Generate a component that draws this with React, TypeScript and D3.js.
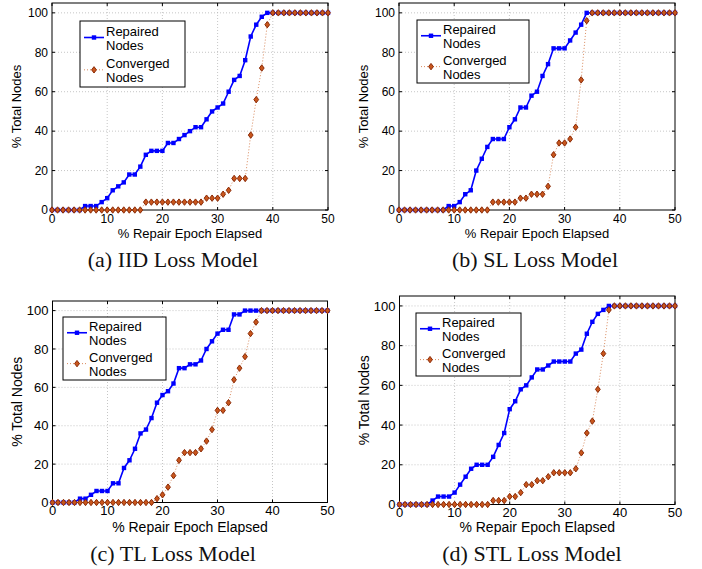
import React from "react";
import * as d3 from "d3";

// x = % repair epoch elapsed, 0..50 in steps of 1
const epochs = d3.range(0, 51);
const xTicks = [0, 10, 20, 30, 40, 50];
const yTicks = [0, 20, 40, 60, 80, 100];

const pad100 = (arr: number[]) => arr.concat(new Array(51 - arr.length).fill(100));

// (a) IID
const iidRepaired = pad100([
  0, 0, 0, 0, 0, 0, 2, 2, 2, 4, 6, 10, 12, 14, 18, 18, 22, 28, 30, 30, 30, 34, 34, 36, 38, 40,
  42, 42, 46, 50, 52, 54, 60, 66, 68, 76, 88, 94, 98, 100,
]);
const iidConverged = pad100([
  0, 0, 0, 0, 0, 0, 0, 0, 0, 0, 0, 0, 0, 0, 0, 0, 0, 4, 4, 4, 4, 4, 4, 4, 4, 4, 4, 4, 6, 6, 6,
  8, 10, 16, 16, 16, 38, 56, 72, 94, 100,
]);

// (b) SL
const slRepaired = pad100([
  0, 0, 0, 0, 0, 0, 0, 0, 0, 2, 2, 4, 8, 10, 20, 26, 32, 36, 36, 36, 42, 46, 52, 52, 58, 60, 68,
  74, 82, 82, 82, 86, 90, 94, 100,
]);
const slConverged = pad100([
  0, 0, 0, 0, 0, 0, 0, 0, 0, 0, 0, 0, 0, 0, 0, 0, 0, 4, 4, 4, 4, 4, 6, 6, 8, 8, 8, 12, 28, 34,
  34, 36, 42, 66, 96, 100,
]);

// (c) TL
const tlRepaired = pad100([
  0, 0, 0, 0, 0, 2, 2, 4, 6, 6, 6, 10, 10, 18, 22, 28, 36, 38, 44, 52, 56, 58, 62, 70, 70, 72,
  72, 74, 80, 84, 88, 90, 90, 98, 98, 100,
]);
const tlConverged = pad100([
  0, 0, 0, 0, 0, 0, 0, 0, 0, 0, 0, 0, 0, 0, 0, 0, 0, 0, 0, 2, 4, 8, 14, 22, 26, 26, 26, 28, 32,
  38, 48, 48, 52, 64, 70, 76, 88, 94, 100,
]);

// (d) STL
const stlRepaired = pad100([
  0, 0, 0, 0, 0, 0, 2, 4, 4, 4, 6, 10, 14, 18, 20, 20, 20, 24, 30, 36, 48, 52, 58, 60, 64, 68,
  68, 70, 72, 72, 72, 72, 76, 78, 86, 92, 96, 98, 100,
]);
const stlConverged = pad100([
  0, 0, 0, 0, 0, 0, 0, 0, 0, 0, 0, 0, 0, 0, 0, 0, 0, 2, 2, 2, 4, 4, 6, 10, 10, 12, 12, 14, 16,
  16, 16, 16, 18, 26, 36, 42, 58, 76, 98, 100,
]);

const BLUE = "#0000ff";
const BROWN_LINE = "#d98a5e";
const BROWN_FILL = "#c8561c";
const BROWN_EDGE = "#8b2a06";
const SANS = "Liberation Sans, Arial, Helvetica, sans-serif";
const SERIF = "Liberation Serif, Times New Roman, serif";

type Box = { left: number; right: number; top: number; bottom: number };

function diamond(cx: number, cy: number) {
  return `M${cx},${cy - 3.2}L${cx + 2.4},${cy}L${cx},${cy + 3.2}L${cx - 2.4},${cy}Z`;
}

function Panel(props: {
  box: Box;
  repaired: number[];
  converged: number[];
  legend: Box;
  caption: string;
  captionX: number;
  tickFont: number;
  labelFont: number;
  captionY: number;
  xLabelY: number;
}) {
  const { box, repaired, converged, legend, caption, captionX, tickFont, labelFont, captionY, xLabelY } = props;
  const x = d3.scaleLinear().domain([0, 50]).range([box.left, box.right]);
  const y = d3.scaleLinear().domain([0, 105]).range([box.bottom, box.top]);
  const line = d3
    .line<number>()
    .x((_, i) => x(epochs[i]))
    .y((d) => y(d));
  const cx = (box.left + box.right) / 2;
  const cy = (box.top + box.bottom) / 2;

  const lh = legend.bottom - legend.top;
  const r1 = legend.top + lh * 0.25;
  const r2 = legend.top + lh * 0.74;
  return (
    <g>
      {/* grid */}
      {xTicks.slice(1, -1).map((t) => (
        <line key={"gx" + t} x1={x(t)} x2={x(t)} y1={box.top} y2={box.bottom}
          stroke="#b8b8b8" strokeWidth={0.8} strokeDasharray="1,2" />
      ))}
      {yTicks.slice(1).map((t) => (
        <line key={"gy" + t} x1={box.left} x2={box.right} y1={y(t)} y2={y(t)}
          stroke="#b8b8b8" strokeWidth={0.8} strokeDasharray="1,2" />
      ))}
      {/* ticks */}
      {xTicks.map((t) => (
        <g key={"tx" + t}>
          <line x1={x(t)} x2={x(t)} y1={box.bottom} y2={box.bottom - 3} stroke="#000" />
          <line x1={x(t)} x2={x(t)} y1={box.top} y2={box.top + 3} stroke="#000" />
          <text x={x(t)} y={box.bottom + 12.5} textAnchor="middle" fontFamily={SANS} fontSize={tickFont}>
            {t}
          </text>
        </g>
      ))}
      {yTicks.map((t) => (
        <g key={"ty" + t}>
          <line x1={box.left} x2={box.left + 3} y1={y(t)} y2={y(t)} stroke="#000" />
          <line x1={box.right} x2={box.right - 3} y1={y(t)} y2={y(t)} stroke="#000" />
          <text x={box.left - 4} y={y(t) + tickFont * 0.36} textAnchor="end" fontFamily={SANS} fontSize={tickFont}>
            {t}
          </text>
        </g>
      ))}
      <rect x={box.left} y={box.top} width={box.right - box.left} height={box.bottom - box.top}
        fill="none" stroke="#000" strokeWidth={1} />

      {/* repaired */}
      <path d={line(repaired) || ""} fill="none" stroke={BLUE} strokeWidth={1.6} />
      {repaired.map((v, i) => (
        <rect key={"r" + i} x={x(epochs[i]) - 2.2} y={y(v) - 2.2} width={4.4} height={4.4} fill={BLUE} />
      ))}
      {/* converged */}
      <path d={line(converged) || ""} fill="none" stroke={BROWN_LINE} strokeWidth={1} strokeDasharray="1,2" />
      {converged.map((v, i) => (
        <path key={"c" + i} d={diamond(x(epochs[i]), y(v))} fill={BROWN_FILL} stroke={BROWN_EDGE} strokeWidth={1} />
      ))}

      {/* legend */}
      <rect x={legend.left} y={legend.top} width={legend.right - legend.left} height={lh}
        fill="#fff" stroke="#000" strokeWidth={1} />
      <line x1={legend.left + 4} x2={legend.left + 24} y1={r1} y2={r1} stroke={BLUE} strokeWidth={1.6} />
      <rect x={legend.left + 14 - 2.2} y={r1 - 2.2} width={4.4} height={4.4} fill={BLUE} />
      <text x={legend.left + 26} y={r1 - 2} fontFamily={SANS} fontSize={13}>Repaired</text>
      <text x={legend.left + 26} y={r1 + 12} fontFamily={SANS} fontSize={13}>Nodes</text>
      <line x1={legend.left + 4} x2={legend.left + 24} y1={r2} y2={r2} stroke={BROWN_LINE} strokeWidth={1} strokeDasharray="1,2" />
      <path d={diamond(legend.left + 14, r2)} fill={BROWN_FILL} stroke={BROWN_EDGE} strokeWidth={1} />
      <text x={legend.left + 26} y={r2 - 2} fontFamily={SANS} fontSize={13}>Converged</text>
      <text x={legend.left + 26} y={r2 + 12} fontFamily={SANS} fontSize={13}>Nodes</text>

      {/* labels */}
      <text x={cx} y={xLabelY} textAnchor="middle" fontFamily={SANS} fontSize={labelFont}>
        % Repair Epoch Elapsed
      </text>
      <text transform={`translate(${box.left - 31},${cy}) rotate(-90)`} textAnchor="middle"
        fontFamily={SANS} fontSize={labelFont}>
        % Total Nodes
      </text>
      <text x={captionX} y={captionY} textAnchor="middle" fontFamily={SERIF} fontSize={22} fill="#111">
        {caption}
      </text>
    </g>
  );
}

export default function App() {
  return (
    <svg width={702} height={569} style={{ position: "absolute", left: 0, top: 0, background: "#fff" }}>
      <rect width={702} height={569} fill="#fff" />
      <Panel box={{ left: 52, right: 328, top: 3, bottom: 210 }} repaired={iidRepaired}
        converged={iidConverged} legend={{ left: 80, right: 185, top: 21, bottom: 87 }}
        caption="(a) IID Loss Model" captionX={173} tickFont={12} labelFont={13}
        captionY={267} xLabelY={237.5} />
      <Panel box={{ left: 399, right: 675, top: 3, bottom: 210 }} repaired={slRepaired}
        converged={slConverged} legend={{ left: 417, right: 529, top: 20, bottom: 83 }}
        caption="(b) SL Loss Model" captionX={535} tickFont={12} labelFont={13}
        captionY={267} xLabelY={237.5} />
      <Panel box={{ left: 52.5, right: 327.5, top: 301, bottom: 502.5 }} repaired={tlRepaired}
        converged={tlConverged} legend={{ left: 63, right: 166, top: 317, bottom: 380 }}
        caption="(c) TL Loss Model" captionX={173} tickFont={13} labelFont={14}
        captionY={561} xLabelY={532} />
      <Panel box={{ left: 399.5, right: 675, top: 296, bottom: 504.5 }} repaired={stlRepaired}
        converged={stlConverged} legend={{ left: 416, right: 521, top: 313, bottom: 376 }}
        caption="(d) STL Loss Model" captionX={532} tickFont={13} labelFont={14}
        captionY={561} xLabelY={532} />
    </svg>
  );
}
